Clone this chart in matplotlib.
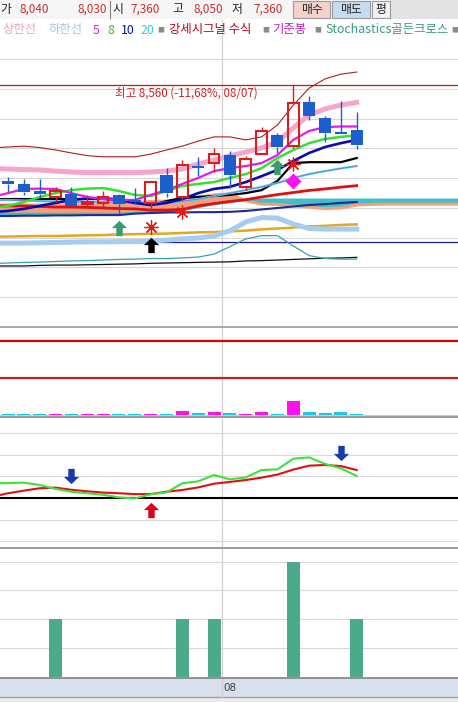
import matplotlib
matplotlib.use("Agg")
import matplotlib.pyplot as plt
import numpy as np
from matplotlib.path import Path
from matplotlib.patches import Rectangle
from matplotlib.lines import Line2D

plt.rcParams['font.family'] = ['Noto Sans CJK KR', 'DejaVu Sans']

# ---- daily candles (23 visible bars) ----
opens = [6950, 6900, 6790, 6680, 6730, 6560, 6580, 6710, 6630, 6580, 7050, 6690,
         7190, 7260, 7390, 6850, 7410, 7730, 7540, 8290, 8020, 7765, 7810]
highs = [7020, 6990, 6990, 6860, 6850, 6720, 6790, 6735, 6840, 6950, 7170, 7310,
         7360, 7510, 7450, 7375, 7865, 7760, 8560, 8390, 8045, 8300, 8120]
lows = [6770, 6720, 6670, 6600, 6520, 6515, 6500, 6410, 6565, 6450, 6685, 6630,
        7035, 7110, 6835, 6800, 7400, 7425, 7510, 7980, 7615, 7760, 7485]
closes = [6900, 6775, 6740, 6785, 6540, 6605, 6690, 6560, 6600, 6930, 6750, 7220,
          7190, 7405, 7055, 7320, 7795, 7530, 8260, 8045, 7755, 7760, 7560]

# ---- overlays (first value = bar just left of the window) ----
env_top = [7510, 7525, 7540, 7515, 7475, 7425, 7380, 7360, 7360, 7360, 7405, 7475,
           7540, 7625, 7695, 7695, 7645, 7695, 7895, 8230, 8515, 8670, 8750, 8785]
upper_band = [7165, 7155, 7145, 7140, 7120, 7105, 7095, 7095, 7095, 7095, 7105, 7120,
              7155, 7240, 7305, 7375, 7440, 7510, 7610, 7845, 8065, 8165, 8230, 8275]
lower_band = [5910, 5910, 5910, 5915, 5920, 5925, 5930, 5930, 5935, 5935, 5945, 5960,
              5980, 5995, 6030, 6115, 6265, 6340, 6330, 6230, 6155, 6145, 6145, 6145]
ma5 = [6685, 6750, 6820, 6825, 6820, 6750, 6685, 6650, 6635, 6635, 6720, 6800,
       6905, 7005, 7120, 7170, 7205, 7255, 7390, 7645, 7795, 7860, 7870, 7870]
ma8 = [6500, 6535, 6600, 6685, 6750, 6800, 6825, 6835, 6785, 6720, 6700, 6785,
       6870, 6905, 6935, 7005, 7070, 7170, 7340, 7475, 7590, 7660, 7695, 7725]
ma10 = [6430, 6450, 6485, 6535, 6585, 6635, 6660, 6670, 6635, 6585, 6550, 6585,
        6650, 6750, 6820, 6855, 6935, 7035, 7140, 7290, 7425, 7525, 7590, 7645]
ma20 = [6635, 6635, 6625, 6615, 6610, 6600, 6600, 6600, 6590, 6585, 6585, 6590,
        6615, 6650, 6700, 6750, 6800, 6855, 6920, 7005, 7070, 7120, 7165, 7205]
conv_line = [6650, 6650, 6650, 6650, 6650, 6650, 6650, 6650, 6635, 6600, 6550, 6615,
             6670, 6685, 6700, 6720, 6750, 6800, 6955, 7255, 7270, 7270, 7270, 7340]
base_line = [6535, 6535, 6535, 6525, 6515, 6515, 6510, 6500, 6490, 6485, 6465, 6465,
             6475, 6535, 6575, 6610, 6640, 6685, 6725, 6760, 6795, 6820, 6850, 6875]
navy_line = [6365, 6365, 6370, 6370, 6375, 6375, 6380, 6380, 6380, 6405, 6415, 6425,
             6425, 6430, 6430, 6435, 6450, 6475, 6500, 6525, 6550, 6565, 6585, 6600]
gold_line = [6015, 6020, 6025, 6030, 6030, 6035, 6040, 6045, 6055, 6060, 6065, 6070,
             6080, 6090, 6095, 6105, 6120, 6140, 6155, 6170, 6190, 6200, 6215, 6225]
teal_line = [5565, 5575, 5585, 5590, 5600, 5610, 5615, 5625, 5635, 5640, 5650, 5650,
             5660, 5675, 5725, 5850, 5980, 6035, 6035, 5860, 5700, 5650, 5640, 5640]
black_thin = [5525, 5525, 5525, 5535, 5540, 5540, 5545, 5550, 5555, 5560, 5570, 5575,
              5580, 5585, 5590, 5595, 5610, 5615, 5625, 5635, 5645, 5655, 5660, 5670]
# cloud spans run 7 bars past the last candle
span_a = [6550, 6550, 6550, 6550, 6550, 6550, 6550, 6550, 6550, 6585, 6610, 6615,
          6650, 6685, 6720, 6735, 6620, 6565, 6560, 6535, 6515, 6490, 6500, 6550,
          6560, 6565, 6565, 6565, 6565, 6565, 6565]
span_b = [6400, 6400, 6400, 6400, 6400, 6400, 6400, 6400, 6400, 6415, 6425, 6430,
          6465, 6515, 6565, 6600, 6635, 6640, 6640, 6640, 6640, 6640, 6640, 6640,
          6640, 6640, 6640, 6640, 6640, 6640, 6640]
high_price = 8560
ref_level = 5930

# ---- signals ----
green_up_bars = [7, 17]
green_up_vals = [6155, 7195]
star_bars = [9, 11, 18]
star_vals = [6180, 6430, 7240]
black_up_bars = [9]
black_up_vals = [5870]
diamond_bars = [18]
diamond_vals = [6955]

# ---- lower panels ----
signal_bars = [3, 5, 5, 3, 5, 3, 5, 3, 3, 5, 5, 14, 8, 11, 8, 5, 11, 5, 44, 11, 8, 11, 5]
signal_levels = [223, 112]
stoch_k = [6.8, 6.9, 7.1, 6.0, 4.2, 2.9, 2.2, 1.5, 0.3, -0.2, 1.7, 2.6, 6.8, 7.7,
           10.6, 8.6, 9.5, 12.9, 13.2, 18.1, 18.7, 15.7, 13.7, 10.1]
stoch_d = [0.6, 2.2, 3.4, 4.5, 4.8, 3.8, 3.1, 2.5, 2.2, 1.8, 1.8, 2.9, 3.7, 4.9,
           6.6, 7.4, 8.3, 9.4, 10.8, 13.1, 14.9, 15.2, 14.7, 12.9]
dead_cross_bars = [4, 21]
dead_cross_vals = [10.1, 20.7]
golden_cross_bars = [9]
golden_cross_vals = [-5.5]
count_vals = [0, 0, 0, 2, 0, 0, 0, 0, 0, 0, 0, 2, 0, 2, 0, 0, 0, 0, 4, 0, 0, 0, 2]

W, H = 458, 702
XLIM = (-0.505, 28.39)
GRID = '#d8d8d8'

n = len(closes)
xc = np.arange(n)
xl = np.arange(-1, n)
xs = np.arange(-1, len(span_a) - 1)

up_arrow = Path([(0, 1), (1, 0.05), (0.42, 0.05), (0.42, -1), (-0.42, -1),
                 (-0.42, 0.05), (-1, 0.05), (0, 1)])
down_arrow = Path([(0, -1), (1, -0.05), (0.42, -0.05), (0.42, 1), (-0.42, 1),
                   (-0.42, -0.05), (-1, -0.05), (0, -1)])

fig = plt.figure(figsize=(W / 100, H / 100), dpi=100)
fig.patch.set_facecolor('white')


def px(x, y):
    return x / W, 1 - y / H


def band(top, bottom):
    return [0, 1 - bottom / H, 1, (bottom - top) / H]


def base_axes(rect, edge='#9a9a9a'):
    ax = fig.add_axes(rect)
    ax.set_facecolor('none')
    ax.set_xlim(*XLIM)
    ax.set_xticks([])
    ax.set_yticks([])
    for s in ['top', 'left', 'right']:
        ax.spines[s].set_visible(False)
    ax.spines['bottom'].set_color(edge)
    ax.spines['bottom'].set_linewidth(1.2)
    return ax


# ---- header bar ----
fig.patches.append(Rectangle(px(0, 19), 1, 19 / H, transform=fig.transFigure,
                             facecolor='#f6f6f6', edgecolor='none', zorder=-3))
fig.patches.append(Rectangle(px(390, 19), 68 / W, 19 / H, transform=fig.transFigure,
                             facecolor='#e4e4e4', edgecolor='none', zorder=-3))
for x0, x1, fc, label in [(293, 330, '#f4d2ca', '매수'), (332, 370, '#c8dcf0', '매도'),
                          (372, 390, '#f2f2f2', '평')]:
    fig.patches.append(Rectangle(px(x0, 18), (x1 - x0) / W, 17 / H,
                                 transform=fig.transFigure, facecolor=fc,
                                 edgecolor='#9a9a9a', lw=0.8, zorder=-2))
    fig.text(*px((x0 + x1) / 2, 9), label, ha='center', va='center', fontsize=8.5,
             color='#202020')
fig.add_artist(Line2D([110 / W] * 2, [1 - 1 / H, 1 - 18 / H], color='#808080', lw=0.8))

hdr = [(0, '가', '#202020'), (20, '8,040', '#c83030'), (77, '8,030', '#c83030'),
       (112, '시', '#202020'), (130, '7,360', '#c83030'), (172, '고', '#202020'),
       (193, '8,050', '#c83030'), (232, '저', '#202020'), (253, '7,360', '#c83030')]
for x, s, c in hdr:
    fig.text(*px(x, 9), s, ha='left', va='center', fontsize=8.5, color=c)

# ---- legend row ----
leg = [(2, '상한선', '#f2a2c8'), (48, '하한선', '#a8c2e2'), (93, '5', '#e020e0'),
       (107, '8', '#30c030'), (121, '10', '#1010a0'), (141, '20', '#30d0e0'),
       (157, '■', '#8a8a8a'), (169, '강세시그널 수식', '#c00020'), (262, '■', '#8a8a8a'),
       (272, '기준봉', '#c020c0'), (314, '■', '#8a8a8a'),
       (325, 'Stochastics골든크로스', '#3a9a7a'), (451, '■', '#8a8a8a')]
for x, s, c in leg:
    fs = 5 if s == '■' else 8.9
    fig.text(*px(x, 30), s, ha='left', va='center', fontsize=fs, color=c)

# month divider and date strip
fig.patches.append(Rectangle(px(0, 697), 1, 19 / H, transform=fig.transFigure,
                             facecolor='#d7e0ec', edgecolor='none', zorder=-3))
fig.patches.append(Rectangle(px(0, 702), 1, 5 / H, transform=fig.transFigure,
                             facecolor='#ececec', edgecolor='none', zorder=-3))
fig.add_artist(Line2D([0, 1], [1 - 697 / H] * 2, color='#a0a0a0', lw=1, zorder=-1))
fig.add_artist(Line2D([222.3 / W] * 2, [1 - 20 / H, 1 - 697 / H], color='#d0d0d0',
                      lw=0.9, zorder=-1))
fig.text(*px(223.5, 688), '08', ha='left', va='center', fontsize=7.5,
         color='#404040', family='DejaVu Sans')

# ---- main price panel ----
ax = base_axes(band(40, 327))
ax.set_ylim(4499, 9324)
for g in range(5000, 9001, 500):
    ax.axhline(g, color=GRID, lw=0.8, zorder=0)

sa = np.array(span_a)
sb = np.array(span_b)
ax.fill_between(xs, sa, sb, where=sa >= sb, interpolate=True, color='#f2a07c',
                lw=0, zorder=1)
ax.fill_between(xs, sa, sb, where=sa < sb, interpolate=True, color='#3cc2c2',
                lw=0, zorder=1)
ax.plot(xs, span_a, color='#f0a07e', lw=2.2, zorder=1.2)
ax.plot(xs, span_b, color='#3cbcc8', lw=1.6, zorder=1.2)

ax.axhline(high_price, color='#c01818', lw=0.9, zorder=2)
ax.axhline(ref_level, color='#1a1a8c', lw=0.9, zorder=2)
ax.text(6.75, 8435, '최고 8,560 (-11,68%, 08/07)', color='#d02020', fontsize=8.3,
        ha='left', va='center', zorder=3)

ax.plot(xl, black_thin, color='#101010', lw=0.9, zorder=2)
ax.plot(xl, teal_line, color='#3aa0b2', lw=0.9, zorder=2)
ax.plot(xl, gold_line, color='#e4a820', lw=1.8, zorder=2)
ax.plot(xl, lower_band, color='#a6ccf2', lw=3.6, zorder=2)
ax.plot(xl, navy_line, color='#1c2c96', lw=1.5, zorder=2)
ax.plot(xl, base_line, color='#e01010', lw=2, zorder=2)
ax.plot(xl, conv_line, color='#000000', lw=1.6, zorder=2.1)
ax.plot(xl, ma20, color='#3cdcf0', lw=1.6, zorder=2.2)
ax.plot(xl, ma20, color='#8a6ae0', lw=0.6, zorder=2.2)
ax.plot(xl, ma10, color='#0a0ab4', lw=1.9, zorder=2.3)
ax.plot(xl, ma8, color='#33e033', lw=1.8, zorder=2.4)
ax.plot(xl, ma5, color='#e619e6', lw=1.6, zorder=2.5)
ax.plot(xl, upper_band, color='#f4a6cc', lw=3.6, zorder=2.6)
ax.plot(xl, env_top, color='#b01c1c', lw=0.8, zorder=2.6)

o = np.array(opens)
c = np.array(closes)
up = c > o
body_lo = np.minimum(o, c)
body_hi = np.maximum(o, c)
ax.vlines(xc, lows, body_lo, colors=np.where(up, '#d81e1e', '#1e5ecc'), lw=1, zorder=3)
ax.vlines(xc, body_hi, highs, colors=np.where(up, '#d81e1e', '#1e5ecc'), lw=1, zorder=3)
flat = (body_hi - body_lo) < 20
ax.bar(xc[up], (body_hi - body_lo)[up], bottom=body_lo[up], width=0.68,
       facecolor='none', edgecolor='#d81e1e', lw=1.5, zorder=3.2)
down = ~up & ~flat
ax.bar(xc[down], (body_hi - body_lo)[down], bottom=body_lo[down], width=0.76,
       color='#1e5ecc', lw=0, zorder=3.2)
ax.hlines(c[flat], xc[flat] - 0.38, xc[flat] + 0.38, color='#1e5ecc', lw=1.5, zorder=3.2)

ax.plot(green_up_bars, green_up_vals, ls='none', marker=up_arrow, ms=11,
        color='#3a9a70', mec='none', zorder=4)
ax.plot(black_up_bars, black_up_vals, ls='none', marker=up_arrow, ms=11,
        color='#000000', mec='none', zorder=4)
ax.plot(star_bars, star_vals, ls='none', marker=(8, 2, 0), ms=10, mew=0.9,
        color='#e01818', zorder=4)
ax.plot(diamond_bars, diamond_vals, ls='none', marker='D', ms=8, color='#ff10f0',
        mec='none', zorder=4)

# ---- signal panel ----
ax2 = base_axes(band(327, 417), edge='#8a8a8a')
ax2.set_ylim(-5, 265)
ax2.axhline(0, color='#cccccc', lw=0.8, zorder=0)
ax2.axhline(signal_levels[0], color='#e00000', lw=1.6)
ax2.axhline(signal_levels[1], color='#c82020', lw=1.6)
ax2.bar(xc, signal_bars, width=0.82, color=np.where(up, '#ff10ee', '#18c8f2'),
        lw=0, zorder=2)

# ---- stochastics panel ----
ax3 = base_axes(band(417, 548), edge='#8a8a8a')
ax3.set_ylim(-23.0, 37.3)
for g in [-20, -10, 10, 20, 30]:
    ax3.axhline(g, color=GRID, lw=0.8, zorder=0)
ax3.axhline(0, color='#000000', lw=1.5, zorder=1)
ax3.plot(xl, stoch_d, color='#e01010', lw=1.5, zorder=2)
ax3.plot(xl, stoch_k, color='#40e040', lw=1.5, zorder=2.1)
ax3.plot(dead_cross_bars, dead_cross_vals, ls='none', marker=down_arrow, ms=11,
         color='#1a3aa8', mec='none', zorder=3)
ax3.plot(golden_cross_bars, golden_cross_vals, ls='none', marker=up_arrow, ms=11,
         color='#d80020', mec='none', zorder=3)

# ---- count histogram panel ----
ax4 = base_axes(band(548, 678), edge='#808080')
ax4.set_ylim(-0.05, 4.48)
for g in [1, 2, 3, 4]:
    ax4.axhline(g, color=GRID, lw=0.8, zorder=0)
ax4.bar(xc, count_vals, width=0.82, color='#4ca98a', lw=0, zorder=2)

fig.savefig('out.png', dpi=100, facecolor='white')
